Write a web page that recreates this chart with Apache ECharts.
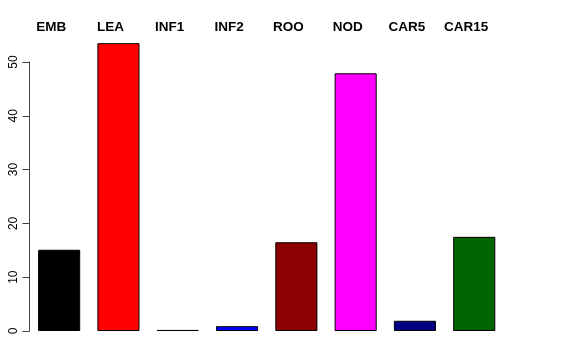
<!DOCTYPE html>
<html><head><meta charset="utf-8">
<script src="https://cdn.jsdelivr.net/npm/echarts@6/dist/echarts.min.js"></script>
<style>html,body{margin:0;padding:0;background:#fff}#c{width:576px;height:360px}</style>
</head><body><div id="c"></div>
<script>
const categories = ['EMB','LEA','INF1','INF2','ROO','NOD','CAR5','CAR15'];
const values = [15.1, 53.5, 0.2, 0.9, 16.5, 47.9, 1.9, 17.5];
const colors = ['#000000','#FF0000','#000000','#0000FF','#8B0000','#FF00FF','#000080','#006400'];
const yTicks = [0,10,20,30,40,50];

const chart = echarts.init(document.getElementById('c'));
chart.setOption({
  animation:false,
  backgroundColor:'#fff',
  grid:{left:29.5, right:576-29.5-474.4, top:62, bottom:29},
  xAxis:{type:'category', data:categories, position:'top',
    axisLine:{show:false}, axisTick:{show:false},
    axisLabel:{interval:0, hideOverlap:false, margin:28, fontFamily:'Liberation Sans', fontWeight:'bold', fontSize:13.5, color:'#000', padding:[0,16,0,0]}},
  yAxis:{type:'value', min:yTicks[0], max:yTicks[yTicks.length-1], interval:10,
    splitLine:{show:false},
    axisLine:{show:true, lineStyle:{color:'#444', width:1}},
    axisTick:{show:true, length:7, lineStyle:{color:'#444'}},
    axisLabel:{rotate:90, margin:10, fontFamily:'Liberation Sans', fontSize:12, color:'#000'}},
  series:[{type:'bar', clip:false, barCategoryGap:'29%',
    data: values.map((v,i)=>({value:v, itemStyle:{color:colors[i]}})),
    itemStyle:{borderColor:'#000', borderWidth:1}}]
});
</script></body></html>
